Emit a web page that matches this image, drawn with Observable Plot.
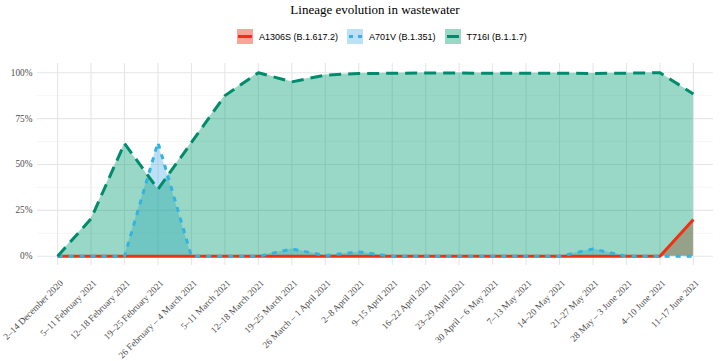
<!DOCTYPE html>
<html>
<head>
<meta charset="utf-8">
<script src="https://cdn.jsdelivr.net/npm/d3@7"></script>
<script src="https://cdn.jsdelivr.net/npm/@observablehq/plot@0.6"></script>
<style>
  body { margin: 0; background: #fff; width: 720px; height: 361px; overflow: hidden; position: relative; }
  #title { position: absolute; top: 2px; left: 30px; width: 690px; text-align: center; font-family: "Liberation Serif", serif; font-size: 13px; color: #000; }
  #legend { position: absolute; top: 29px; left: 237px; display: flex; align-items: center; font-family: "Liberation Sans", Arial, sans-serif; font-size: 9px; color: #000; }
  .item { display: flex; align-items: center; margin-right: 9px; }
  .item svg { margin-right: 6px; }
  #chart { position: absolute; top: 50px; left: 0; }
</style>
</head>
<body>
<div id="title">Lineage evolution in wastewater</div>
<div id="legend"></div>
<div id="chart"></div>
<script>
const weeks = [
  "2–14 December 2020", "5–11 February 2021", "12–18 February 2021", "19–25 February 2021",
  "26 February – 4 March 2021", "5–11 March 2021", "12–18 March 2021", "19–25 March 2021",
  "26 March – 1 April 2021", "2–8 April 2021", "9–15 April 2021", "16–22 April 2021",
  "23–29 April 2021", "30 April – 6 May 2021", "7–13 May 2021", "14–20 May 2021",
  "21–27 May 2021", "28 May – 3 June 2021", "4–10 June 2021", "11–17 June 2021"
];
const seriesNames = ["A1306S (B.1.617.2)", "A701V (B.1.351)", "T716I (B.1.1.7)"];
const A1306S = [0,0,0,0,0,0,0,0,0,0,0,0,0,0,0,0,0,0,0,20];
const A701V  = [0,0,0,62,0,0,0,4,0.4,2.4,0,0,0,0,0,0,4,0,0,0];
const T716I  = [0,20.5,61.5,36.5,62,87.5,100,95,98.7,99.5,99.7,99.8,99.8,99.7,99.7,99.7,99.6,99.7,100,88.4];
const yTicks = [0, 25, 50, 75, 100];
const yMinor = [12.5, 37.5, 62.5, 87.5];

const lineColors = ["#f2300f", "#33b3e0", "#008c6c"];
const fillColors = ["#f21a00", "#56b4e9", "#009e73"];
const dashes = [null, "5,6", "12,7"];
const values = [A1306S, A701V, T716I];

const data = values.map((arr, s) => arr.map((v, i) => ({week: weeks[i], value: v, series: seriesNames[s]})));

// legend
const legend = document.getElementById("legend");
seriesNames.forEach((name, s) => {
  const item = document.createElement("div");
  item.className = "item";
  item.innerHTML = `<svg width="16" height="15"><rect x="0" y="0" width="16" height="15" fill="${fillColors[s]}" fill-opacity="0.4"/>` +
    `<line x1="1" x2="15" y1="7.5" y2="7.5" stroke="${lineColors[s]}" stroke-width="3" ${dashes[s] ? `stroke-dasharray="${s===1 ? '4,5' : '12,7'}" stroke-dashoffset="-1"` : ""}/></svg><span>${name}</span>`;
  legend.appendChild(item);
});

const marks = [
  Plot.gridY(yMinor, {stroke: "#f0f0f0", strokeOpacity: 1, strokeWidth: 0.6}),
  Plot.gridY(yTicks, {stroke: "#e6e6e6", strokeOpacity: 1, strokeWidth: 1.1}),
  Plot.gridX(weeks, {stroke: "#e6e6e6", strokeOpacity: 1, strokeWidth: 1.1}),
];
data.forEach((d, s) => {
  marks.push(Plot.areaY(d, {x: "week", y: "value", fill: fillColors[s], fillOpacity: 0.4}));
});
data.forEach((d, s) => {
  marks.push(Plot.lineY(d, {x: "week", y: "value", stroke: lineColors[s], strokeWidth: 3, strokeDasharray: dashes[s] || undefined, strokeLinecap: "butt", strokeLinejoin: "miter"}));
});
marks.push(Plot.axisY(yTicks, {tickSize: 0, tickPadding: 5, tickFormat: d => d + "%", fontFamily: "Liberation Serif, serif", fontSize: 9.3, fill: "#4d4d4d", label: null}));
marks.push(Plot.axisX(weeks, {tickSize: 0, tickPadding: 9, tickRotate: -45, dx: 4, dy: 7, fontFamily: "Liberation Serif, serif", fontSize: 9.3, fill: "#4d4d4d", label: null}));

const chart = Plot.plot({
  width: 720,
  height: 311,
  marginLeft: 37,
  marginRight: 7,
  marginTop: 13,
  marginBottom: 96,
  x: {type: "point", domain: weeks, padding: 0.6, round: false},
  y: {domain: [-5, 105]},
  style: {background: "#fff", overflow: "visible"},
  marks
});
document.getElementById("chart").appendChild(chart);
</script>
</body>
</html>
